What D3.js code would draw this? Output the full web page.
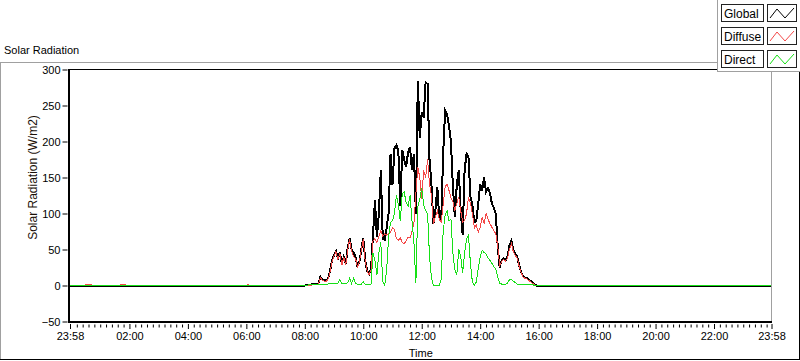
<!DOCTYPE html>
<html><head><meta charset="utf-8">
<script src="https://cdn.jsdelivr.net/npm/d3@7"></script>
<style>
body{margin:0;background:#fff}
svg{display:block;font-family:"Liberation Sans",Arial,sans-serif}
</style>
</head><body>
<svg id="c" width="800" height="361"></svg>
<script>
// ---- DATA ----
const times = [
"23:58","00:28","00:32","00:40","00:44","01:40","01:44","01:50","01:54","06:00","06:04","06:08",
"07:40","07:44","07:48","07:52","07:56","08:00","08:04","08:08","08:12","08:16",
"08:20","08:24","08:28","08:32","08:36","08:40","08:44","08:48","08:52","08:56",
"09:00","09:04","09:08","09:12","09:16","09:20","09:24","09:28","09:32","09:36",
"09:40","09:44","09:48","09:52","09:56","10:00","10:04","10:08","10:12","10:16",
"10:20","10:24","10:28","10:32","10:36","10:40","10:44","10:48","10:52","10:56",
"11:00","11:04","11:08","11:12","11:16","11:20","11:24","11:28","11:32","11:36",
"11:40","11:44","11:48","11:52","11:56","12:00","12:04","12:08","12:12","12:16",
"12:20","12:24","12:28","12:32","12:36","12:40","12:44","12:48","12:52","12:56",
"13:00","13:04","13:08","13:12","13:16","13:20","13:24","13:28","13:32","13:36",
"13:40","13:44","13:48","13:52","13:56","14:00","14:04","14:08","14:12","14:16",
"14:20","14:24","14:28","14:32","14:36","14:40","14:44","14:48","14:52","14:56",
"15:00","15:04","15:08","15:12","15:16","15:20","15:24","15:28","15:32","15:36",
"15:40","15:44","15:48","15:52","15:56","16:00","16:04",
"23:58"];

const globalRad = [
0,0,0,0,0,0,0,0,0,0,0,0,
0,0,0,0,0,0,0.5,1,1,2,
2,2,3,12,8,7,7,10,21,35,
42,48,38,46,30,40,30,52,66,50,
46,40,27,33,50,66,35,20,16,24,
70,118,67,100,160,65,63,80,100,183,
140,190,195,187,110,188,175,165,185,192,
160,183,100,284,205,240,233,282,280,175,
140,86,104,137,95,90,183,243,238,222,
200,137,95,140,160,104,70,160,183,178,
123,112,88,90,114,141,132,150,130,135,
128,114,108,100,55,25,35,38,35,40,
55,62,50,44,40,28,19,13,11,10,
8,6,4,1,0,0,0,
0];

const diffuseRad = [
0,0,2,2,0,0,2,2,0,0,1.5,0,
0,0,0,0,0,0,0,0,0,1,
1,1,2,11,7,6,6,9,19,33,
41,47,36,45,28,39,28,50,64,48,
40,38,26,32,49,64,34,20,15,22,
62,65,60,68,76,68,72,70,72,74,
80,78,65,63,66,60,58,62,67,66,
75,86,128,164,150,120,160,150,175,140,
125,86,95,104,92,88,112,137,141,132,
122,116,104,114,123,104,88,90,100,123,
114,100,80,84,74,81,95,86,100,92,
86,81,76,72,55,28,33,36,34,38,
50,58,47,42,38,27,18,12,10,9,
7,5,3,1,0,0,0,
0];

const directRad = [
0,0,0,0,0,0,0,0,0,0,0,0,
0,0,0,0,0,0,0,1,1,1,
2,2,2,2,2,2,2,2,3,3,
3,2,3,8,3,2,3,4,10,3,
10,3,2,2,2,5,2,1,1,2,
45,35,15,45,60,5,0,21,67,88,
90,100,125,112,90,128,130,115,110,125,
90,60,3,110,120,135,112,104,100,40,
10,0,0,0,0,8,75,97,104,90,
92,45,22,15,50,40,18,45,65,70,
30,5,0,5,24,40,49,46,44,38,
35,31,26,23,12,3,2,2,2,3,
8,8,6,4,2,2,1,1,1,1,
1,1,1,0,0,0,0,
0];

const seriesNames = ["Global","Diffuse","Direct"];
const seriesColors = ["#000000","#f44848","#16e016"];
const xTickLabels = ["23:58","02:00","04:00","06:00","08:00","10:00","12:00","14:00","16:00","18:00","20:00","22:00","23:58"];
const yTickValues = [-50,0,50,100,150,200,250,300];
const chartTitle = "Solar Radiation";
const yAxisTitle = "Solar Radiation (W/m2)";
const xAxisTitle = "Time";

// ---- helpers ----
function parseSeq(list){
  let day=0, prev=-1;
  return list.map(s=>{
    const [h,m]=s.split(":").map(Number);
    const mins=h*60+m;
    if(prev>=0 && mins<prev) day++;
    prev=mins;
    return new Date(2000,0,1+day,h,m);
  });
}
const dates = parseSeq(times);
const tickDates = parseSeq(xTickLabels);

const L=69, R=771.5, T=69.5, B=321.5;
const svg=d3.select("#c");

const x=d3.scaleTime().domain([tickDates[0],tickDates[tickDates.length-1]]).range([70,R]);
const y=d3.scaleLinear().domain([-50,300]).range([B,T]);

// outer frame
svg.append("line").attr("x1",0).attr("x2",718).attr("y1",62.5).attr("y2",62.5).attr("stroke","#a0a0a0");
svg.append("line").attr("x1",0.5).attr("x2",0.5).attr("y1",62).attr("y2",360).attr("stroke","#a0a0a0");
svg.append("line").attr("x1",0).attr("x2",800).attr("y1",359.5).attr("y2",359.5).attr("stroke","#000");
svg.append("line").attr("x1",799.5).attr("x2",799.5).attr("y1",72).attr("y2",360).attr("stroke","#000");

svg.append("text").attr("x",4).attr("y",54).attr("font-size",11).attr("fill","#000").text(chartTitle);

// clip
svg.append("defs").append("clipPath").attr("id","clip").append("rect")
  .attr("x",L).attr("y",T-1).attr("width",R-L).attr("height",B-T+2);

// series
const line = d3.line().x((d,i)=>x(dates[i])).y(d=>y(d));
const seriesData=[globalRad,diffuseRad,directRad];
const g=svg.append("g").attr("clip-path","url(#clip)");
seriesData.forEach((arr,k)=>{
  g.append("path").attr("d",line(arr)).attr("fill","none")
   .attr("stroke",seriesColors[k]).attr("stroke-width",k===0?2:1)
   .attr("shape-rendering","crispEdges")
   .attr("stroke-linejoin","miter");
});

// plot borders
svg.append("line").attr("x1",L).attr("x2",R+0.5).attr("y1",T).attr("y2",T).attr("stroke","#000");
svg.append("line").attr("x1",R).attr("x2",R).attr("y1",T).attr("y2",B).attr("stroke","#a0a0a0");
svg.append("line").attr("x1",L).attr("x2",L).attr("y1",T-0.5).attr("y2",B+1.5).attr("stroke","#000").attr("stroke-width",2);
svg.append("line").attr("x1",L-1).attr("x2",R+0.5).attr("y1",B+0.5).attr("y2",B+0.5).attr("stroke","#000").attr("stroke-width",2);

// y axis
const ya=svg.append("g").attr("transform",`translate(${L-1.5},0)`)
  .call(d3.axisLeft(y).tickValues(yTickValues).tickSize(5).tickPadding(2));
ya.select(".domain").remove();
ya.selectAll("line").attr("stroke","#000");
ya.selectAll("text").attr("font-size",11).attr("font-family","Liberation Sans, Arial, sans-serif").attr("fill","#000");

// x axis minor
const minors=d3.timeMinute.every(12).range(tickDates[0],tickDates[tickDates.length-1])
  .filter(d=>!(d.getMinutes()===0 && d.getHours()%2===0));
const xm=svg.append("g").attr("transform",`translate(0,${B+3})`)
  .call(d3.axisBottom(x).tickValues(minors).tickSize(3).tickFormat(""));
xm.select(".domain").remove();
xm.selectAll("line").attr("stroke","#000");

// x axis major
const xa=svg.append("g").attr("transform",`translate(0,${B+2.5})`)
  .call(d3.axisBottom(x).tickValues(tickDates).tickSize(5).tickPadding(3)
    .tickFormat((d,i)=>xTickLabels[i]));
xa.select(".domain").remove();
xa.selectAll("line").attr("stroke","#000");
xa.selectAll("text").attr("font-size",11).attr("font-family","Liberation Sans, Arial, sans-serif").attr("fill","#000");

// axis titles
svg.append("text").attr("x",(70+R)/2).attr("y",357).attr("text-anchor","middle")
  .attr("font-size",11).attr("fill","#000").text(xAxisTitle);
svg.append("text").attr("transform",`translate(37,${(T+B)/2-18}) rotate(-90)`)
  .attr("text-anchor","middle").attr("font-size",12).attr("fill","#1a1008").text(yAxisTitle);

// legend
const lg=svg.append("g");
lg.append("rect").attr("x",717.5).attr("y",-1).attr("width",83).attr("height",72.5).attr("fill","#fff").attr("stroke","#a0a0a0");
seriesNames.forEach((name,i)=>{
  const top=4+i*23;
  lg.append("rect").attr("x",721.5).attr("y",top+0.5).attr("width",42).attr("height",17).attr("fill","#fff").attr("stroke","#222");
  lg.append("text").attr("x",724).attr("y",top+13.5).attr("font-size",12).attr("fill","#000").text(name);
  lg.append("rect").attr("x",767.5).attr("y",top+0.5).attr("width",29).attr("height",17).attr("fill","#fff").attr("stroke","#222");
  const pts=[[770,top+14],[777,top+5],[785,top+14],[794,top+4]];
  lg.append("path").attr("d",d3.line()(pts)).attr("fill","none").attr("stroke",seriesColors[i]).attr("stroke-width",1);
});
</script>
</body></html>
